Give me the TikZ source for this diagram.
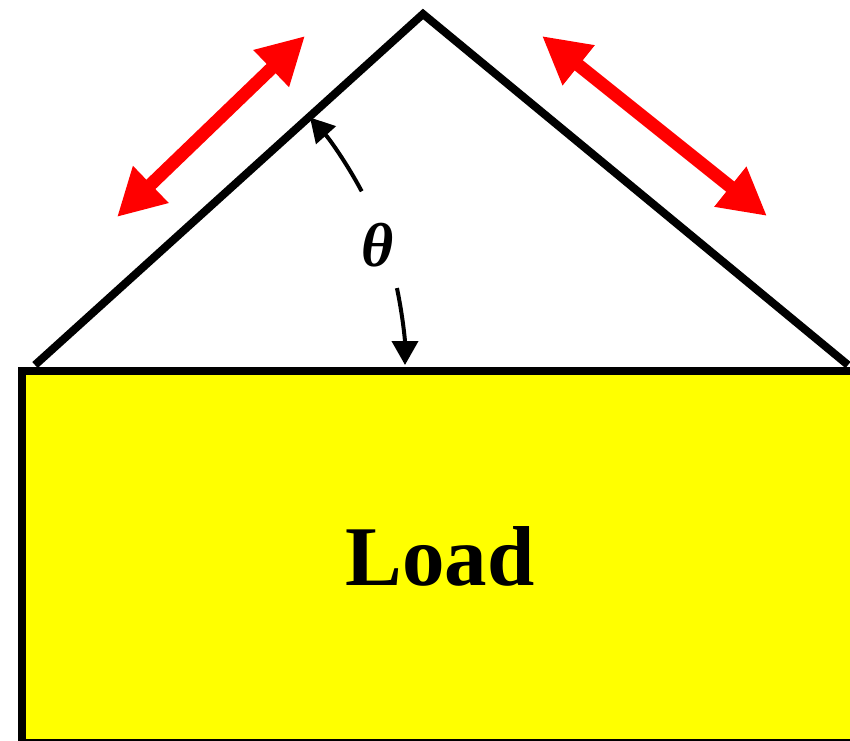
\documentclass[tikz,border=0pt]{standalone}
\usepackage{fontspec}
\setmainfont{Liberation Serif}
\usetikzlibrary{arrows.meta}
\definecolor{loadyellow}{RGB}{255,255,0}
\definecolor{arrowred}{RGB}{255,0,0}
\begin{document}
\begin{tikzpicture}[x=1pt,y=1pt,
  outline/.style={draw=black,line width=8pt,line join=miter},
  redarrow/.style={draw=arrowred,line width=13pt,{Triangle[length=47pt,width=48pt]}-{Triangle[length=47pt,width=48pt]}},
  anglearrow/.style={draw=black,line width=4pt,-{Triangle[length=24pt,width=26pt]}}]
\useasboundingbox (0,0) rectangle (850,740);
% load box
\node[outline,fill=loadyellow,minimum width=836pt,minimum height=372pt,inner sep=0pt,anchor=north west] (box) at (18,373) {};
\node[anchor=base,font=\fontsize{85}{85}\selectfont\bfseries] (load) at (440,155) {Load};
% roof
\coordinate (L) at (35,375);
\coordinate (A) at (423,726);
\coordinate (R) at (848,375);
\draw[outline] (L) -- (A) -- (R);
% red arrows
\coordinate (r1a) at (117,523);
\coordinate (r1b) at (305,704);
\coordinate (r2a) at (542,704);
\coordinate (r2b) at (767,524);
\draw[redarrow] (r1a) -- (r1b);
\draw[redarrow] (r2a) -- (r2b);
% angle
\node[font=\fontsize{62}{62}\selectfont\bfseries\itshape] (theta) at (378,495) {θ};
\draw[anglearrow] ([shift={(28:370)}]L) arc[start angle=28,end angle=42,radius=370];
\draw[anglearrow] ([shift={(12:370)}]L) arc[start angle=12,end angle=0,radius=370];
\end{tikzpicture}
\end{document}
